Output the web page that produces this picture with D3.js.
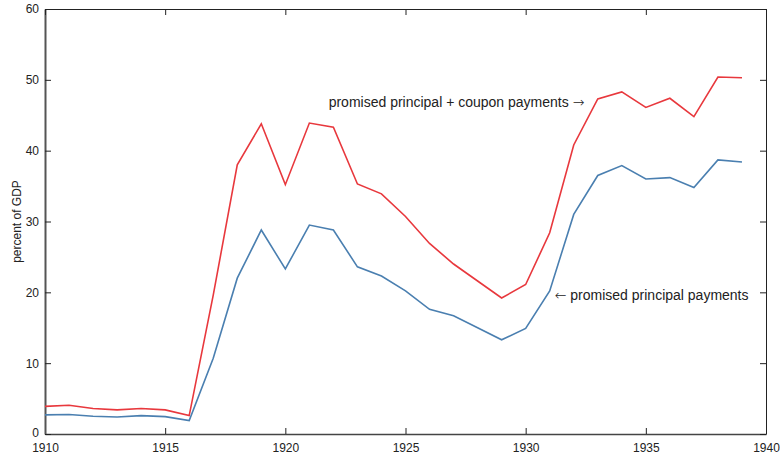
<!DOCTYPE html>
<html lang="en">
<head>
<meta charset="utf-8">
<title>Promised payments as percent of GDP</title>
<script src="https://d3js.org/d3.v7.min.js"></script>
<style>
body {
  margin: 0;
  background: #fff;
}
svg text {
  font-family: "Liberation Sans", Arial, sans-serif;
  fill: #222;
}
.tick text {
  font-size: 12px;
}
.note {
  font-size: 14px;
}
.arrow {
  font-family: "DejaVu Sans", sans-serif;
  font-weight: 200;
}
</style>
</head>
<body>
<svg width="780" height="460"></svg>
<script>
// years 1910..1939
var years = d3.range(1910, 1940);

// promised principal + coupon payments, % of GDP
var totalPayments = [3.9, 4.05, 3.6, 3.4, 3.6, 3.4, 2.6, 19.6, 38.0, 43.8,
                     35.2, 43.9, 43.3, 35.3, 33.9, 30.7, 26.9, 24.0, 21.6, 19.2,
                     21.1, 28.4, 40.8, 47.3, 48.3, 46.1, 47.4, 44.8, 50.4, 50.3];

// promised principal payments, % of GDP
var principalPayments = [2.7, 2.75, 2.5, 2.4, 2.6, 2.45, 1.9, 10.7, 22.0, 28.8,
                         23.3, 29.5, 28.8, 23.6, 22.3, 20.2, 17.6, 16.7, 15.0, 13.3,
                         14.9, 20.2, 31.0, 36.5, 37.9, 36.0, 36.2, 34.8, 38.7, 38.4];

var xTicks = [1910, 1915, 1920, 1925, 1930, 1935, 1940];
var yTicks = [0, 10, 20, 30, 40, 50, 60];

var svg = d3.select("svg"),
    plotLeft = 45, plotRight = 766, plotTop = 9, plotBottom = 434;

var x = d3.scaleLinear().domain([1910, 1940]).range([plotLeft, plotRight]);
var y = d3.scaleLinear().domain([0, 60]).range([plotBottom, plotTop]);

// axes with inward ticks, mirrored on top and right
var gx = svg.append("g")
    .attr("transform", "translate(0," + plotBottom + ")")
    .call(d3.axisBottom(x).tickValues(xTicks).tickFormat(d3.format("d"))
          .tickSizeInner(-6).tickSizeOuter(0).tickPadding(9));

var gy = svg.append("g")
    .attr("transform", "translate(" + plotLeft + ",0)")
    .call(d3.axisLeft(y).tickValues(yTicks)
          .tickSizeInner(-6).tickSizeOuter(0).tickPadding(6));

svg.append("g")
    .attr("transform", "translate(0," + plotTop + ")")
    .call(d3.axisTop(x).tickValues(xTicks).tickFormat("")
          .tickSizeInner(-6).tickSizeOuter(0));

svg.append("g")
    .attr("transform", "translate(" + plotRight + ",0)")
    .call(d3.axisRight(y).tickValues(yTicks).tickFormat("")
          .tickSizeInner(-6).tickSizeOuter(0));

svg.selectAll(".domain").attr("stroke", "#222");
svg.selectAll(".tick line").attr("stroke", "#222");
gx.select(".domain").attr("stroke", "#444").attr("stroke-width", 1.5);
gy.select(".domain").attr("stroke", "#555").attr("stroke-width", 2);
svg.selectAll(".tick text").attr("fill", "#222");
// keep the "0" label clear of "1910"
gy.selectAll(".tick text").filter(function(d) { return d === 0; }).attr("dy", "0.2em");

svg.append("text")
    .attr("transform", "translate(21," + ((plotTop + plotBottom) / 2) + ") rotate(-90)")
    .attr("text-anchor", "middle")
    .style("font-size", "12px")
    .text("percent of GDP");

var line = d3.line()
    .x(function(d, i) { return x(years[i]); })
    .y(function(d) { return y(d); });

svg.append("path")
    .datum(totalPayments)
    .attr("fill", "none")
    .attr("stroke", "#e8383d")
    .attr("stroke-width", 1.6)
    .attr("d", line);

svg.append("path")
    .datum(principalPayments)
    .attr("fill", "none")
    .attr("stroke", "#4a7fb0")
    .attr("stroke-width", 1.6)
    .attr("d", line);

var upper = svg.append("text")
    .attr("class", "note")
    .attr("x", x(1932.9) - 11)
    .attr("y", y(46.9) + 5)
    .attr("text-anchor", "end");
upper.append("tspan").text("promised principal + coupon payments ");
upper.append("tspan").attr("class", "arrow").text("\u2192");

var lower = svg.append("text")
    .attr("class", "note")
    .attr("x", x(1931) + 5)
    .attr("y", y(19.5) + 4)
    .attr("text-anchor", "start");
lower.append("tspan").attr("class", "arrow").text("\u2190");
lower.append("tspan").text(" promised principal payments");
</script>
</body>
</html>
